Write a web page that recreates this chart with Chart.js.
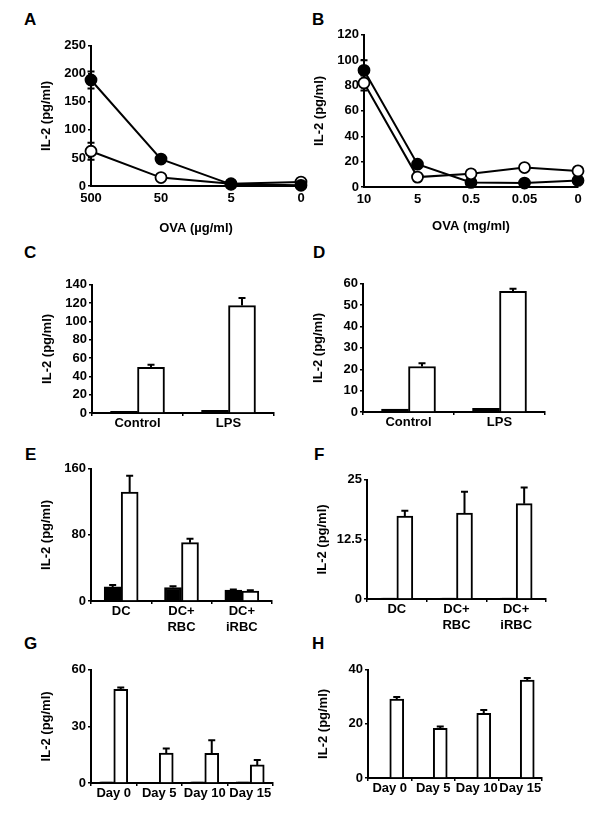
<!DOCTYPE html>
<html>
<head>
<meta charset="utf-8">
<script src="https://cdn.jsdelivr.net/npm/chart.js@4/dist/chart.umd.min.js"></script>
<style>
  body { margin:0; background:#fff; }
  #fig { position:relative; width:600px; height:820px; background:#fff; font-family:'Liberation Sans', Arial, sans-serif; }
  #fig canvas { position:absolute; }
  .lbl { position:absolute; font-weight:bold; font-size:17px; line-height:1; color:#000; }
</style>
</head>
<body>
<div id="fig">
  <div class="lbl" style="left:24px;top:11px">A</div>
  <div class="lbl" style="left:312px;top:11px">B</div>
  <div class="lbl" style="left:24px;top:244px">C</div>
  <div class="lbl" style="left:313px;top:244px">D</div>
  <div class="lbl" style="left:25px;top:446px">E</div>
  <div class="lbl" style="left:314px;top:446px">F</div>
  <div class="lbl" style="left:24px;top:635px">G</div>
  <div class="lbl" style="left:312px;top:635px">H</div>
</div>
<script>
// ---- data ----
const ovaUg   = ['500', '50', '5', '0'];
const aFilled = [189, 48, 3, 1.2];
const aFilledErr = [15, 0, 0, 0];
const aOpen   = [62, 15, 4, 7];
const aOpenErr = [15, 0, 0, 0];

const ovaMg   = ['10', '5', '0.5', '0.05', '0'];
const bFilled = [92, 18, 3.6, 3.1, 5.2];
const bFilledErr = [8, 0, 0, 0, 0];
const bOpen   = [82, 7.8, 10.4, 15.3, 12.7];
const bOpenErr = [6, 0, 0, 0, 0];

const treatLabels = ['Control', 'LPS'];
const cBlack = [1.8, 2.8];
const cWhite = [49.8, 117.3];
const cWhiteErr = [2.9, 8.3];
const dBlack = [1.4, 1.7];
const dWhite = [21.3, 56.5];
const dWhiteErr = [1.5, 1.2];

const cellLabels = [['DC'], ['DC+', 'RBC'], ['DC+', 'iRBC']];
const eBlack = [17, 16.3, 13.1];
const eBlackErr = [2.4, 1.6, 0.8];
const eWhite = [131.7, 70.6, 11.9];
const eWhiteErr = [19.9, 4.8, 1.2];
const fBlack = [0.2, 0.2, 0.2];
const fWhite = [17.4, 18.0, 20.0];
const fWhiteErr = [1.1, 4.5, 3.4];

const dayLabels = ['Day 0', 'Day 5', 'Day 10', 'Day 15'];
const gBlack = [0.6, 0.3, 0.6, 0.6];
const gWhite = [49.6, 15.8, 15.7, 9.6];
const gWhiteErr = [1.0, 2.5, 6.9, 2.6];
const hBlack = [0, 0, 0, 0];
const hWhite = [29.2, 18.4, 23.9, 36.2];
const hWhiteErr = [0.7, 0.6, 1.2, 0.8];

// ---- shared style ----
const FONT = { family:"'Liberation Sans', Arial, sans-serif", size:13, weight:'bold' };
const YW = 56;   // width reserved for y ticks + title
const PAD_T = 8, PAD_R = 14;

// vertical error bars, drawn behind the marks
const errorBars = {
  id: 'errorBars',
  beforeDatasetsDraw(chart) {
    const ctx = chart.ctx, y = chart.scales.y;
    ctx.save();
    ctx.strokeStyle = '#000';
    ctx.lineWidth = 2;
    chart.data.datasets.forEach((ds, i) => {
      if (!ds.errUp) return;
      chart.getDatasetMeta(i).data.forEach((el, j) => {
        const v = ds.data[j], up = ds.errUp[j] || 0, dn = ds.errDown ? (ds.errDown[j] || 0) : 0;
        if (!up && !dn) return;
        const yt = y.getPixelForValue(v + up), yb = y.getPixelForValue(v - dn);
        ctx.beginPath();
        ctx.moveTo(el.x, yb); ctx.lineTo(el.x, yt);
        if (up) { ctx.moveTo(el.x - 3.5, yt); ctx.lineTo(el.x + 3.5, yt); }
        if (dn) { ctx.moveTo(el.x - 3.5, yb); ctx.lineTo(el.x + 3.5, yb); }
        ctx.stroke();
      });
    });
    ctx.restore();
  }
};

function yAxis(max, step) {
  return {
    min:0, max:max,
    ticks:{ stepSize:step, color:'#000', font:FONT, padding:2, autoSkip:false },
    grid:{ drawOnChartArea:false, drawTicks:true, tickLength:3, color:'#000', lineWidth:1.5 },
    border:{ display:true, color:'#000', width:2 },
    title:{ display:true, text:'IL-2 (pg/ml)', color:'#000', font:FONT, padding:{top:4, bottom:4} },
    afterFit: s => { s.width = YW; }
  };
}

function panel(box, xH, type, labels, datasets, yMax, yStep, xTitle) {
  const fig = document.getElementById('fig');
  const c = document.createElement('canvas');
  const w = box.r - box.l + YW + PAD_R, h = box.b - box.t + PAD_T + xH;
  c.width = w; c.height = h;
  c.style.left = (box.l - YW) + 'px'; c.style.top = (box.t - PAD_T) + 'px';
  c.style.width = w + 'px'; c.style.height = h + 'px';
  fig.appendChild(c);

  const isLine = type === 'line';
  const x = {
    offset: !isLine,
    ticks:{ color:'#000', font:FONT, padding: isLine ? 5 : 0, maxRotation:0, autoSkip:false },
    grid:{ drawOnChartArea:false, drawTicks:!isLine, tickLength:3, color:'#000', lineWidth:1.5 },
    border:{ display:true, color:'#000', width:2 },
    afterFit: s => { s.height = xH; }
  };
  if (xTitle) x.title = { display:true, text:xTitle, color:'#000', font:FONT, padding:{top:4, bottom:4} };

  new Chart(c, {
    type: type,
    data: { labels: labels, datasets: datasets },
    options: {
      responsive:false, animation:false, devicePixelRatio:1,
      layout:{ padding:{ top:PAD_T, right:PAD_R, left:0, bottom:0 } },
      plugins:{ legend:{ display:false }, tooltip:{ enabled:false } },
      scales:{ x: x, y: yAxis(yMax, yStep) }
    },
    plugins:[errorBars]
  });
}

function lineDs(data, err, fill) {
  return { data:data, errUp:err, errDown:err, borderColor:'#000', borderWidth:2, clip:false,
           pointRadius:5.5, pointBorderWidth:1.8, pointBorderColor:'#000', pointBackgroundColor:fill };
}
function barDs(data, err, fill, thick) {
  return { data:data, errUp:err, backgroundColor:fill, borderColor:'#000', borderWidth:2, barThickness:thick };
}

// A, B - dose response lines
panel({l:91, t:44, b:186, r:301}, 54, 'line', ovaUg,
  [lineDs(aFilled, aFilledErr, '#000'), lineDs(aOpen, aOpenErr, '#fff')], 250, 50, 'OVA (µg/ml)');
panel({l:364, t:33, b:187, r:578}, 51, 'line', ovaMg,
  [lineDs(bOpen, bOpenErr, '#fff'), lineDs(bFilled, bFilledErr, '#000')], 120, 20, 'OVA (mg/ml)');

// C, D
panel({l:92, t:283, b:413, r:274}, 24, 'bar', treatLabels,
  [barDs(cBlack, null, '#000', 27), barDs(cWhite, cWhiteErr, '#fff', 27)], 140, 20);
panel({l:363, t:282, b:412, r:545}, 24, 'bar', treatLabels,
  [barDs(dBlack, null, '#000', 27), barDs(dWhite, dWhiteErr, '#fff', 27)], 60, 10);

// E, F
panel({l:91, t:467, b:601, r:272}, 40, 'bar', cellLabels,
  [barDs(eBlack, eBlackErr, '#000', 17), barDs(eWhite, eWhiteErr, '#fff', 17)], 160, 80);
panel({l:367, t:478, b:599, r:546}, 40, 'bar', cellLabels,
  [barDs(fBlack, null, '#000', 16), barDs(fWhite, fWhiteErr, '#fff', 16)], 25, 12.5);

// G, H
panel({l:91, t:668, b:783, r:273}, 24, 'bar', dayLabels,
  [barDs(gBlack, null, '#000', 14), barDs(gWhite, gWhiteErr, '#fff', 14)], 60, 30);
panel({l:368, t:668, b:778, r:542}, 24, 'bar', dayLabels,
  [barDs(hBlack, null, '#000', 14), barDs(hWhite, hWhiteErr, '#fff', 14)], 40, 20);
</script>
</body>
</html>
